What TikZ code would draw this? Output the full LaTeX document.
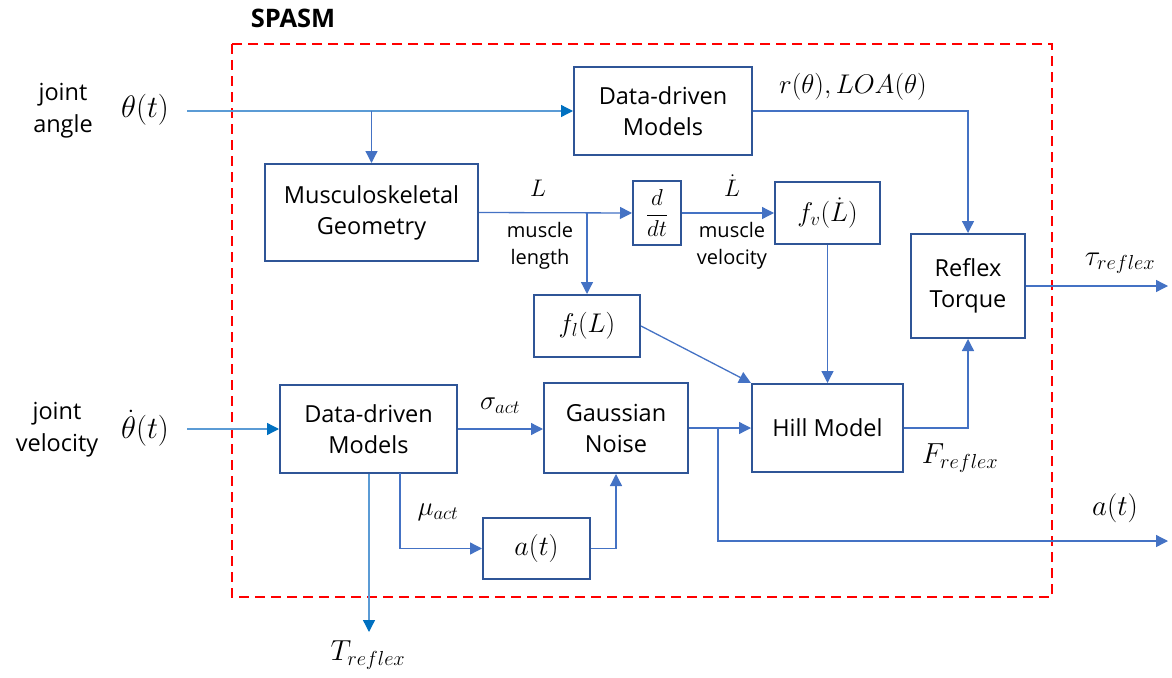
\RequirePackage{fix-cm}
\documentclass[tikz,border=0pt]{standalone}
\usepackage[no-math]{fontspec}
\setmainfont{Open Sans}
\usetikzlibrary{arrows.meta}
\definecolor{boxblue}{HTML}{2F5597}
\definecolor{linkblue}{HTML}{4472C4}
\definecolor{inblue}{HTML}{5B9BD5}
\definecolor{tipblue}{HTML}{0070C0}
\definecolor{spasmred}{HTML}{FF0000}

\begin{document}
\begin{tikzpicture}[x=1pt,y=-1pt,
  block/.style={draw=boxblue, line width=2pt, inner sep=0pt, align=center,
    text=black, font=\fontsize{23.5}{31}\selectfont},
  mathblock/.style={block, font=\fontsize{27}{31}\selectfont},
  link/.style={draw=linkblue, line width=1.3pt,
    -{Triangle[length=12pt,width=12pt,color=linkblue]}},
  feed/.style={draw=inblue, line width=1.3pt,
    -{Triangle[length=12pt,width=12pt,color=tipblue]}},
  word/.style={align=center, inner sep=0pt, font=\fontsize{23.5}{32}\selectfont},
  small/.style={align=center, inner sep=0pt, font=\fontsize{20}{27}\selectfont},
  symB/.style={inner sep=0pt, font=\fontsize{31}{34}\selectfont},
  sym/.style={inner sep=0pt, font=\fontsize{29}{32}\selectfont},
  symS/.style={inner sep=0pt, font=\fontsize{27}{30}\selectfont},
  symL/.style={inner sep=0pt, font=\fontsize{24}{28}\selectfont}]

\useasboundingbox (0,0) rectangle (1172,677);

% system boundary
\draw[spasmred, line width=1.8pt, dash pattern=on 10pt off 6pt] (232,44) rectangle (1052,597);
\node[inner sep=0pt, font=\fontsize{25.5}{30}\selectfont\bfseries] (title) at (293,18) {SPASM};

% blocks
\node[block, minimum width=178, minimum height=88] (topDDM) at (663,111) {Data-driven\\Models};
\node[block, minimum width=213, minimum height=97] (musc) at (371.5,212.5) {Musculoskeletal\\Geometry};
\node[block, minimum width=48, minimum height=64, font=\fontsize{23}{26}\selectfont] (ddt) at (657,213) {$\displaystyle\frac{d}{dt}$};
\node[mathblock, minimum width=105, minimum height=62] (fv) at (827.5,213) {$f_v(\dot{L})$};
\node[block, minimum width=114, minimum height=104] (reflex) at (968,286) {Reflex\\Torque};
\node[mathblock, minimum width=106, minimum height=62] (fl) at (587,326) {$f_l(L)$};
\node[block, minimum width=144, minimum height=90] (gauss) at (616,428) {Gaussian\\Noise};
\node[block, minimum width=151, minimum height=88] (hill) at (827.5,428) {Hill Model};
\node[mathblock, minimum width=107, minimum height=61, font=\fontsize{28}{31}\selectfont] (act) at (536.5,548.5) {$a(t)$};
\node[block, minimum width=177, minimum height=88] (botDDM) at (368.5,429) {Data-driven\\Models};

% free ends
\coordinate (thIn) at (187,111);
\coordinate (thdIn) at (187,429);
\coordinate (split) at (718,428);
\coordinate (aOut) at (1168,541);
\coordinate (tauOut) at (1168,286);
\coordinate (TOut) at (369,632);
\coordinate (muStart) at (400,473);

% inputs
\draw[feed] (thIn) -- (topDDM.west);
\draw[link] (musc.north |- thIn) -- (musc.north);
\draw[feed] (thdIn) -- (botDDM.west);

% signal flow
\draw[link] (topDDM.east) -| (reflex.north);
\draw[link] (musc.east) -- (ddt.west);
\draw[link] (fl.north |- musc.east) -- (fl.north);
\draw[link] (ddt.east) -- (fv.west);
\draw[link] (fv.south) -- (hill.north);
\draw[link] (fl.east) -- (hill.north west);
\draw[link] (botDDM.east) -- (gauss.west |- botDDM.east);
\draw[link] (gauss.east) -- (hill.west);
\draw[link] (split) |- (aOut);
\draw[link] (hill.east) -| (reflex.south);
\draw[link] (reflex.east) -- (tauOut);
\draw[feed] (botDDM.south -| TOut) -- (TOut);
\draw[link] (muStart) |- (act.west);
\draw[link] (act.east) -| (gauss.south);

% labels
\node[word] (jaLbl) at (63,111) {joint\\angle};
\node[symB] (thLbl) at (145,110) {$\theta(t)$};
\node[word] (jvLbl) at (57,430) {joint\\velocity};
\node[symB] (thdLbl) at (145,428) {$\dot{\theta}(t)$};
\node[symS] (rLbl) at (853,87) {$r(\theta), LOA(\theta)$};
\node[symL] (LLbl) at (538,188) {$L$};
\node[small] (mlLbl) at (540,246) {muscle\\length};
\node[symL] (LdLbl) at (732,186) {$\dot{L}$};
\node[small] (mvLbl) at (732,246) {muscle\\velocity};
\node[sym] (tauLbl) at (1120,263) {$\tau_{reflex}$};
\node[symS] (sigLbl) at (500,406) {$\sigma_{act}$};
\node[symS] (muLbl) at (438,512) {$\mu_{act}$};
\node[sym] (FLbl) at (960,458) {$F_{reflex}$};
\node[sym] (aLbl) at (1115,508) {$a(t)$};
\node[sym] (TLbl) at (368,655) {$T_{reflex}$};
\end{tikzpicture}
\end{document}
